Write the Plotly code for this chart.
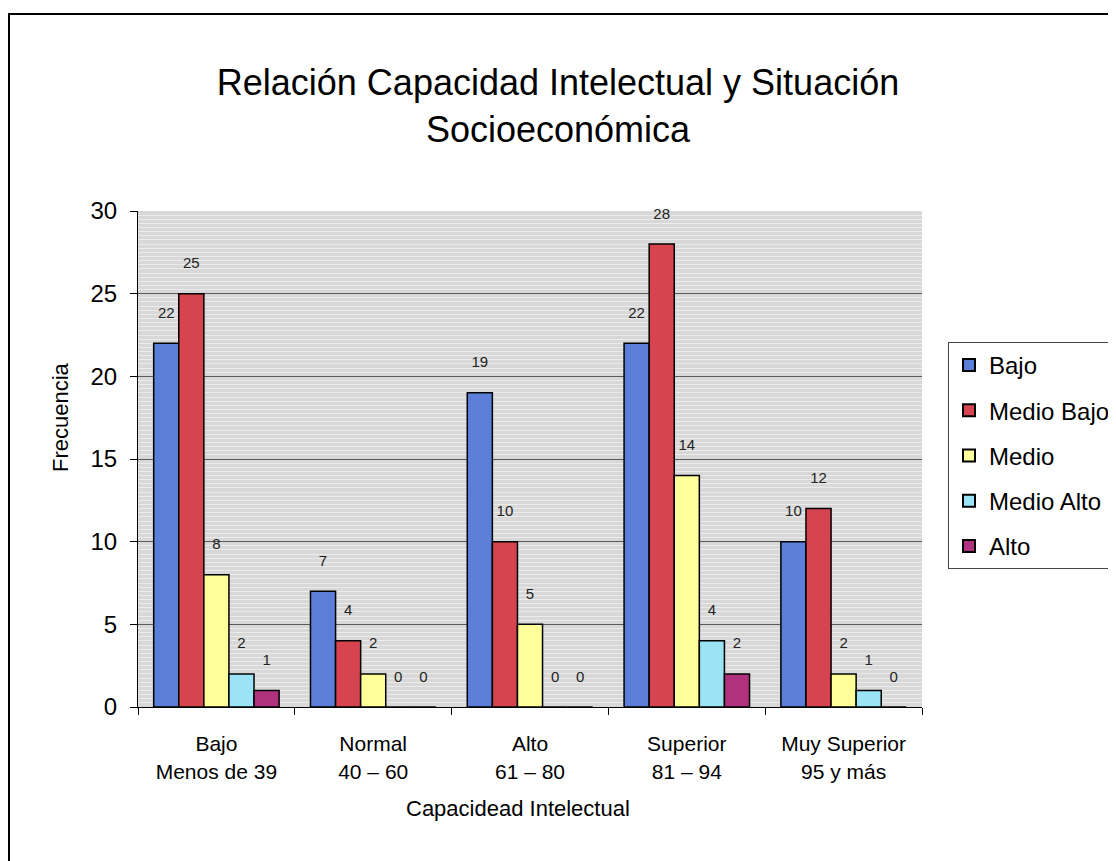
import plotly.graph_objects as go

categories = ["Bajo<br>Menos de 39", "Normal<br>40 – 60", "Alto<br>61 – 80", "Superior<br>81 – 94", "Muy Superior<br>95 y más"]
series_names = ["Bajo", "Medio Bajo", "Medio", "Medio Alto", "Alto"]
bajo = [22, 7, 19, 22, 10]
medio_bajo = [25, 4, 10, 28, 12]
medio = [8, 2, 5, 14, 2]
medio_alto = [2, 0, 0, 4, 1]
alto = [1, 0, 0, 2, 0]
series_values = [bajo, medio_bajo, medio, medio_alto, alto]
colors = ["#5B7FD8", "#D6444F", "#FFFF99", "#9AE4F5", "#B0327F"]

FONT = "Liberation Sans, Arial, sans-serif"

# screen geometry
PL, PR, PT, PB = 138, 922, 211, 707
PW, PH = PR - PL, PB - PT

def px(xs):
    return (xs - PL) / PW

def py(ys):
    return (PB - ys) / PH

fig = go.Figure()
for name, vals, col in zip(series_names, series_values, colors):
    fig.add_trace(go.Bar(
        x=categories, y=vals, name=name, legendgroup=name,
        marker=dict(color=col, line=dict(color="black", width=1.5)),
        text=[str(v) for v in vals], texttemplate="%{text}<br> ",
        textposition="outside",
        textfont=dict(size=15, color="#222", family=FONT),
        cliponaxis=False,
    ))

fig.update_layout(
    width=1116, height=861,
    paper_bgcolor="white", plot_bgcolor="#d8d8d8",
    barmode="group", bargap=0.2, bargroupgap=0,
    margin=dict(l=PL - 8, r=1124 - PR, t=PT - 8, b=869 - PB, autoexpand=False),
    font=dict(family=FONT, color="black"),
    title=dict(text="Relación Capacidad Intelectual y Situación<br>Socioeconómica",
               x=(558 - 8) / 1116, xanchor="center",
               y=1 - (95 - 8) / 861, yanchor="middle",
               font=dict(size=36, family=FONT)),
    legend=dict(x=px(948), y=py(342), xanchor="left", yanchor="top",
                bordercolor="#444", borderwidth=1, bgcolor="white",
                font=dict(size=24, family=FONT), tracegroupgap=11,
                itemsizing="constant"),
    xaxis=dict(tickfont=dict(size=21), showline=True, linecolor="black", linewidth=1,
               ticks="outside", tickson="boundaries", ticklen=7, tickcolor="black",
               ticklabelstandoff=18, showgrid=False, automargin=False),
    yaxis=dict(range=[0, 30], dtick=5, tickfont=dict(size=24),
               showline=True, linecolor="black", linewidth=1,
               ticks="outside", ticklen=7, tickcolor="black", ticklabelstandoff=8,
               showgrid=True, gridcolor="#5a5a5a", gridwidth=1,
               minor=dict(showgrid=True, gridcolor="#ebebeb", dtick=0.25, gridwidth=1),
               zeroline=False, automargin=False),
)

fig.add_annotation(text="Frecuencia", textangle=-90, x=px(60), y=py(417),
                   xref="paper", yref="paper", xanchor="center", yanchor="middle",
                   showarrow=False, font=dict(size=22, family=FONT))
fig.add_annotation(text="Capacidead Intelectual", x=px(518), y=py(808),
                   xref="paper", yref="paper", xanchor="center", yanchor="middle",
                   showarrow=False, font=dict(size=22, family=FONT))

fig.add_shape(type="rect", xref="paper", yref="paper",
              x0=px(9), x1=px(1135), y0=py(880), y1=py(14),
              line=dict(color="black", width=2), fillcolor="rgba(0,0,0,0)", layer="below")

fig.write_html("out.html")
